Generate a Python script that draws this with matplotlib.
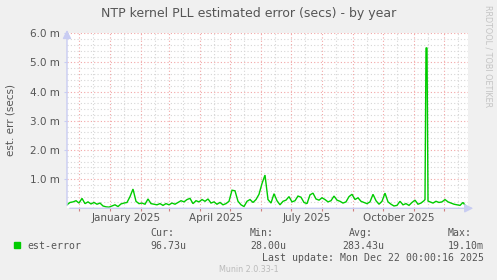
import datetime as dt
import matplotlib
matplotlib.use("Agg")
import matplotlib.pyplot as plt
import matplotlib.dates as mdates

# est-error in milliseconds (about one point per 3 days)
start = dt.date(2024, 11, 19)
days = list(range(0, 358, 3)) + [358, 359, 360, 361] + list(range(363, 400, 3))
err_ms = [
    0.12, 0.20, 0.22, 0.26, 0.18, 0.34, 0.16, 0.22, 0.15, 0.20,
    0.14, 0.18, 0.08, 0.05, 0.04, 0.08, 0.12, 0.06, 0.15, 0.18,
    0.20, 0.40, 0.66, 0.24, 0.16, 0.18, 0.14, 0.32, 0.16, 0.14,
    0.12, 0.16, 0.10, 0.16, 0.12, 0.18, 0.14, 0.20, 0.26, 0.22,
    0.30, 0.34, 0.16, 0.26, 0.22, 0.30, 0.24, 0.32, 0.18, 0.22,
    0.14, 0.20, 0.12, 0.16, 0.24, 0.62, 0.60, 0.24, 0.12, 0.06,
    0.24, 0.30, 0.20, 0.30, 0.48, 0.85, 1.14, 0.30, 0.18, 0.50,
    0.26, 0.12, 0.24, 0.28, 0.40, 0.22, 0.26, 0.42, 0.38, 0.20,
    0.16, 0.46, 0.52, 0.32, 0.28, 0.36, 0.30, 0.22, 0.26, 0.42,
    0.28, 0.24, 0.18, 0.22, 0.40, 0.48, 0.30, 0.36, 0.24, 0.20,
    0.16, 0.22, 0.48, 0.26, 0.14, 0.24, 0.52, 0.22, 0.14, 0.08,
    0.10, 0.24, 0.12, 0.16, 0.10, 0.20, 0.28, 0.14, 0.18, 0.26,
    0.30, 5.50, 5.50, 0.25,
    0.22, 0.18, 0.24, 0.20, 0.22, 0.30, 0.22, 0.18, 0.14, 0.12, 0.10, 0.20, 0.06,
]
dates = [start + dt.timedelta(days=d) for d in days]

yticks = [1.0, 2.0, 3.0, 4.0, 5.0, 6.0]
ylabels = ["1.0 m", "2.0 m", "3.0 m", "4.0 m", "5.0 m", "6.0 m"]
xlabel_months = [dt.date(2025, 1, 1), dt.date(2025, 4, 1), dt.date(2025, 7, 1), dt.date(2025, 10, 1)]
stats_head = ["Cur:", "Min:", "Avg:", "Max:"]
stats_vals = ["96.73u", "28.00u", "283.43u", "19.10m"]

BG = "#F0F0F0"
GREEN = "#00CC00"
TXT = "#555555"
AXC = "#C8CCF2"

fig = plt.figure(figsize=(4.97, 2.80), dpi=100, facecolor=BG)
W, H = 497.0, 280.0
ax = fig.add_axes([67 / W, 1 - 208.3 / H, 401 / W, 175 / H])
ax.set_facecolor("white")

x0 = mdates.date2num(start)
ax.set_xlim(x0, x0 + 401)
ax.set_ylim(0, 6.0)

# grid: minor every 0.2 m / mid-month, major every 1 m / month start
for v in [i * 0.2 for i in range(1, 31)]:
    if abs(v - round(v)) > 1e-6:
        ax.axhline(v, color="#D6D6D6", lw=0.8, ls=(0, (1, 2)), zorder=1)
for v in yticks:
    ax.axhline(v, color="#F2A6A6", lw=0.8, ls=(0, (1, 2)), zorder=1)
months = []
d = dt.date(2024, 12, 1)
while d < dt.date(2026, 1, 1):
    months.append(d)
    d = dt.date(d.year + (d.month == 12), d.month % 12 + 1, 1)
for m in [dt.date(2024, 11, 15)] + [m.replace(day=15) for m in months]:
    ax.axvline(mdates.date2num(m), color="#D6D6D6", lw=0.8, ls=(0, (1, 2)), zorder=1)
for m in months:
    ax.axvline(mdates.date2num(m), color="#F2A6A6", lw=0.8, ls=(0, (1, 2)), zorder=1)

ax.plot(mdates.date2num(dates), err_ms, color=GREEN, lw=1.0, zorder=3,
        solid_joinstyle="miter")

for s in ax.spines.values():
    s.set_visible(False)
ax.annotate("", xy=(1.02, 0), xytext=(0, 0), xycoords="axes fraction",
            arrowprops=dict(arrowstyle="-|>,head_length=0.5,head_width=0.25", color=AXC, lw=1),
            annotation_clip=False)
ax.annotate("", xy=(0, 1.035), xytext=(0, 0), xycoords="axes fraction",
            arrowprops=dict(arrowstyle="-|>,head_length=0.5,head_width=0.25", color=AXC, lw=1),
            annotation_clip=False)

ax.set_yticks(yticks)
ax.set_yticklabels(ylabels, fontsize=7.5, color=TXT)
ax.tick_params(axis="y", length=2, color=AXC, pad=3)
ax.set_xticks([mdates.date2num(m) for m in months])
ax.set_xticklabels([])
ax.tick_params(axis="x", length=2, color="#D08080")
for m in xlabel_months:
    ax.text(mdates.date2num(m) + 16, -0.17, m.strftime("%B %Y"), transform=ax.transData,
            ha="center", va="top", fontsize=7.5, color=TXT)

fig.text(248.5 / W, 1 - 14 / H, "NTP kernel PLL estimated error (secs) - by year",
         ha="center", va="center", fontsize=9, color=TXT)
fig.text(10.5 / W, 1 - 120 / H, "est. err (secs)", rotation=90,
         ha="center", va="center", fontsize=7.5, color=TXT)
fig.text(488 / W, 1 - 5 / H, "RRDTOOL / TOBI OETIKER", rotation=270,
         ha="center", va="top", fontsize=5.8, color="#C4C4C4")

mono = "DejaVu Sans Mono"
fig.patches.append(plt.Rectangle((14 / W, 1 - 248 / H), 6 / W, 6 / H,
                                 transform=fig.transFigure, color=GREEN, figure=fig))
fig.text(27 / W, 1 - 246 / H, "est-error", family=mono, fontsize=7.1, color=TXT, va="center")
for x, h, v in zip([150, 250, 342.7, 447.3], stats_head, stats_vals):
    hx = x + 6 if h == "Avg:" else x
    fig.text(hx / W, 1 - 233.5 / H, h, family=mono, fontsize=7.1, color=TXT, va="center")
    fig.text(x / W, 1 - 246 / H, v, family=mono, fontsize=7.1, color=TXT, va="center")
fig.text(261.7 / W, 1 - 257.7 / H, "Last update: Mon Dec 22 00:00:16 2025",
         family=mono, fontsize=7.1, color=TXT, va="center")
fig.text(248.5 / W, 1 - 269 / H, "Munin 2.0.33-1", ha="center", va="center",
         fontsize=5.8, color="#BBBBBB")

fig.savefig("out.png", dpi=100, facecolor=BG)
